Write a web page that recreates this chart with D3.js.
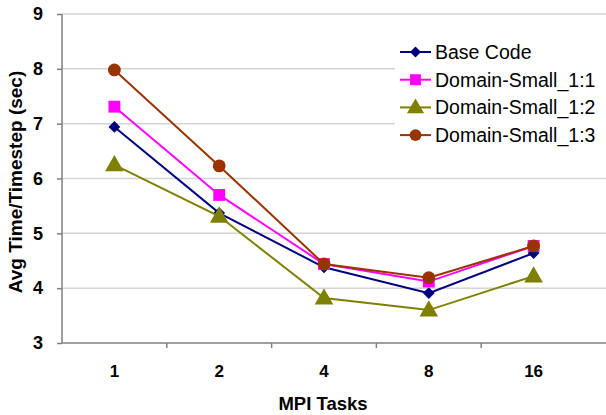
<!DOCTYPE html>
<html><head><meta charset="utf-8">
<script src="https://cdn.jsdelivr.net/npm/d3@7/dist/d3.min.js"></script>
<style>body{margin:0;background:#fff}svg{display:block;font-family:"Liberation Sans",Arial,sans-serif}</style>
</head><body><svg id="c" width="606" height="415"></svg>
<script>
const categories = ["1","2","4","8","16"];
const seriesNames = ["Base Code","Domain-Small_1:1","Domain-Small_1:2","Domain-Small_1:3"];
const baseCode = [6.94, 5.37, 4.38, 3.91, 4.64];
const small11  = [7.31, 5.70, 4.44, 4.12, 4.77];
const small12  = [6.25, 5.31, 3.82, 3.60, 4.22];
const small13  = [7.98, 6.23, 4.44, 4.19, 4.77];
const yTicks = [3,4,5,6,7,8,9];
const colors = ["#000080","#FF00FF","#808000","#993300"];
const shapes = [d3.symbolSquare, d3.symbolSquare, d3.symbolTriangle, d3.symbolCircle];
const rotations = [45, 0, 0, 0];
const sizes = [70, 140, 150, 130];
const allSeries = [baseCode, small11, small12, small13];

const svg = d3.select("#c");
const L = 62, R = 586, T = 14, B = 343;
const x = d3.scaleBand().domain(categories).range([L, R]);
const y = d3.scaleLinear().domain([3, 9]).range([B, T]);

// gridlines
svg.append("g").selectAll("line").data(yTicks.filter(t => t > 3)).join("line")
  .attr("x1", L).attr("x2", 606).attr("y1", d => y(d)).attr("y2", d => y(d))
  .attr("stroke", "#d4d4d4").attr("stroke-width", 1.5);

// y axis
const ya = svg.append("g").attr("transform", `translate(${L},0)`)
  .call(d3.axisLeft(y).tickValues(yTicks).tickFormat(d3.format("d")).tickSize(5).tickPadding(14));
ya.select(".domain").remove();
ya.append("line").attr("x1", 0).attr("x2", 0).attr("y1", T).attr("y2", B).attr("stroke", "#808080").attr("stroke-width", 1.5);
ya.selectAll(".tick line").attr("stroke", "#808080").attr("stroke-width", 1.5);
ya.selectAll(".tick text").attr("font-size", 18).attr("font-weight", "bold").attr("fill", "#000");

// x axis
const xa = svg.append("g").attr("transform", `translate(0,${B})`)
  .call(d3.axisBottom(x).tickSize(0).tickPadding(22));
xa.select(".domain").remove();
xa.append("line").attr("x1", L).attr("x2", 606).attr("y1", 0).attr("y2", 0).attr("stroke", "#808080").attr("stroke-width", 1.5);
xa.selectAll(".tick text").attr("font-size", 17).attr("font-weight", "bold").attr("fill", "#000");
xa.selectAll(".bt").data(categories.slice(1)).join("line")
  .attr("x1", d => x(d)).attr("x2", d => x(d)).attr("y1", 0).attr("y2", 5)
  .attr("stroke", "#808080").attr("stroke-width", 1.5);

// legend background
svg.append("rect").attr("x", 395).attr("y", 34).attr("width", 211).attr("height", 132).attr("fill", "#fff");

// series
const cx = i => x(categories[i]) + x.bandwidth() / 2;
const line = d3.line().x((d, i) => cx(i)).y(d => y(d));
allSeries.forEach((s, k) => {
  const g = svg.append("g");
  g.append("path").datum(s).attr("d", line).attr("fill", "none").attr("stroke", colors[k]).attr("stroke-width", 2);
  g.selectAll("path.m").data(s).join("path").attr("class", "m")
    .attr("transform", (d, i) => `translate(${cx(i)},${y(d) + (k === 2 ? 1 : 0)}) rotate(${rotations[k]})`)
    .attr("d", d3.symbol().type(shapes[k]).size(sizes[k]))
    .attr("fill", colors[k]);
});

// legend
const lg = svg.append("g");
seriesNames.forEach((n, k) => {
  const yy = 52 + k * 27.7;
  lg.append("line").attr("x1", 400).attr("x2", 431).attr("y1", yy).attr("y2", yy).attr("stroke", colors[k]).attr("stroke-width", 2);
  lg.append("path").attr("transform", `translate(415.5,${yy + (k === 2 ? 1 : 0)}) rotate(${rotations[k]})`)
    .attr("d", d3.symbol().type(shapes[k]).size(sizes[k] * 0.85)).attr("fill", colors[k]);
  lg.append("text").attr("x", 435).attr("y", yy + 7).attr("font-size", 19.5).attr("fill", "#000").text(n);
});

// axis titles
svg.append("text").attr("x", 323).attr("y", 410).attr("text-anchor", "middle")
  .attr("font-size", 18.5).attr("font-weight", "bold").text("MPI Tasks");
svg.append("text").attr("transform", "translate(22,182) rotate(-90)").attr("text-anchor", "middle")
  .attr("font-size", 19).attr("font-weight", "bold").text("Avg Time/Timestep (sec)");
</script></body></html>
